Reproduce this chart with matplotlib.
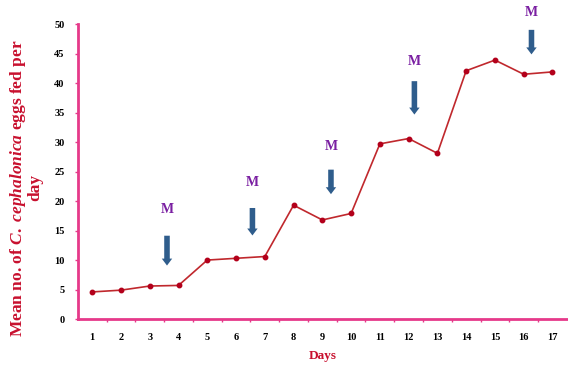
import matplotlib
matplotlib.use("Agg")
import matplotlib.pyplot as plt
import numpy as np

days = list(range(1, 18))
eggs_fed = [4.6, 4.9, 5.6, 5.7, 10.0, 10.3, 10.6, 19.3, 16.8, 17.9,
            29.7, 30.6, 28.1, 42.1, 43.9, 41.5, 41.9]

# moult markers: x position (day), arrow top, arrow bottom, label height
moult_day = [3.6, 6.57, 9.3, 12.2, 16.27]
moult_top = [14.6, 19.3, 25.8, 40.8, 49.5]
moult_bottom = [8.6, 13.7, 20.7, 34.2, 44.4]
moult_label_y = [18.5, 23.2, 29.2, 43.6, 51.9]

plt.rcParams["font.family"] = ["Liberation Serif", "DejaVu Serif"]
plt.rcParams["mathtext.fontset"] = "custom"
plt.rcParams["mathtext.it"] = "Liberation Serif:italic:bold"
plt.rcParams["mathtext.rm"] = "Liberation Serif:bold"

pink = "#e6398a"
red = "#c8102e"

fig = plt.figure(figsize=(5.68, 3.71), dpi=100)
ax = fig.add_axes([0.137, 0.140, 0.861, 0.795])

ax.plot(days, eggs_fed, color="#c0282d", linewidth=1.2, marker="o",
        markersize=3.2, markerfacecolor="#b3001b", markeredgecolor="#b3001b")

for x, top, bottom, ly in zip(moult_day, moult_top, moult_bottom, moult_label_y):
    ax.annotate("", xy=(x, bottom), xytext=(x, top),
                arrowprops=dict(arrowstyle="simple,head_width=0.75,head_length=0.5,tail_width=0.4",
                                color="#2f5d8c", lw=0))
    ax.text(x, ly, "M", color="#7a1fa2", fontsize=10, fontweight="bold",
            ha="center", va="center", clip_on=False)

ax.set_xlim(0.5, 17.5)
ax.set_ylim(0, 50)
ax.set_yticks(np.arange(0, 51, 5))
ax.set_xticks(days)
ax.set_xticks(np.arange(1.5, 17.5, 1), minor=True)
ax.tick_params(axis="x", which="major", length=0, pad=10, labelsize=7.5)
ax.tick_params(axis="x", which="minor", length=2.5, color=pink, width=1)
ax.tick_params(axis="y", length=2.5, color=pink, width=1, labelsize=7.5, pad=7)
for lab in ax.get_xticklabels() + ax.get_yticklabels():
    lab.set_fontweight("bold")

for side in ["top", "right"]:
    ax.spines[side].set_visible(False)
for side in ["left", "bottom"]:
    ax.spines[side].set_color(pink)
    ax.spines[side].set_linewidth(2)

ax.set_xlabel("Days", color=red, fontsize=9.5, fontweight="bold", labelpad=6)
ax.set_ylabel("Mean no. of $C.\\ cephalonica$ eggs fed per\nday",
              color=red, fontsize=12.5, fontweight="bold", linespacing=1.0)
ax.yaxis.set_label_coords(-0.07, 0.445)

fig.savefig("out.png", dpi=100)
